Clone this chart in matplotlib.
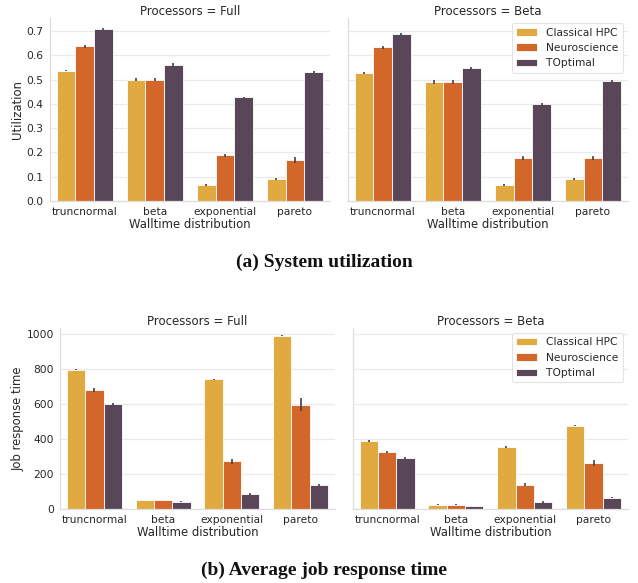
import numpy as np
import matplotlib
matplotlib.use("Agg")
import matplotlib.pyplot as plt

# ---------------- data ----------------
distributions = ["truncnormal", "beta", "exponential", "pareto"]
workloads = ["Classical HPC", "Neuroscience", "TOptimal"]
panels = ["Full", "Beta"]

# Utilization (a)
util_full = {
    "Classical HPC": [0.537, 0.500, 0.065, 0.092],
    "Neuroscience": [0.637, 0.500, 0.188, 0.170],
    "TOptimal": [0.710, 0.562, 0.427, 0.532],
}
util_full_err = {
    "Classical HPC": [0.003, 0.007, 0.003, 0.004],
    "Neuroscience": [0.006, 0.007, 0.006, 0.012],
    "TOptimal": [0.004, 0.005, 0.003, 0.005],
}
util_beta = {
    "Classical HPC": [0.528, 0.490, 0.065, 0.090],
    "Neuroscience": [0.633, 0.490, 0.177, 0.177],
    "TOptimal": [0.690, 0.547, 0.398, 0.494],
}
util_beta_err = {
    "Classical HPC": [0.003, 0.008, 0.003, 0.003],
    "Neuroscience": [0.006, 0.008, 0.008, 0.009],
    "TOptimal": [0.004, 0.006, 0.005, 0.006],
}

# Job response time (b)
resp_full = {
    "Classical HPC": [798, 51, 743, 992],
    "Neuroscience": [680, 51, 272, 598],
    "TOptimal": [600, 42, 88, 137],
}
resp_full_err = {
    "Classical HPC": [3, 2, 3, 3],
    "Neuroscience": [10, 2, 14, 38],
    "TOptimal": [6, 4, 6, 8],
}
resp_beta = {
    "Classical HPC": [390, 25, 356, 478],
    "Neuroscience": [326, 25, 139, 265],
    "TOptimal": [291, 19, 42, 65],
}
resp_beta_err = {
    "Classical HPC": [4, 1, 4, 4],
    "Neuroscience": [6, 1, 9, 18],
    "TOptimal": [4, 1, 5, 3],
}

colors = {"Classical HPC": "#E1AA40", "Neuroscience": "#D3672A", "TOptimal": "#5A4659"}
text_col = "#262626"

W, H = 638, 583
fig = plt.figure(figsize=(W / 100, H / 100), dpi=100)


def px_axes(x0, x1, y0, y1):
    return fig.add_axes([x0 / W, 1 - y1 / H, (x1 - x0) / W, (y1 - y0) / H])


def draw(ax, data, err, title, ylim, yticks, ylabel=None, legend=False, show_ylabels=True):
    n = len(workloads)
    width = 0.8 / n
    x = np.arange(len(distributions))
    for i, w in enumerate(workloads):
        pos = x - 0.4 + width * (i + 0.5)
        ax.bar(pos, data[w], width, color=colors[w], edgecolor="white",
               linewidth=0.6, label=w, zorder=2)
        ax.errorbar(pos, data[w], yerr=err[w], fmt="none", ecolor="#424242",
                    elinewidth=1.2, capsize=0, zorder=3)
    ax.set_xlim(-0.5, len(distributions) - 0.5)
    ax.set_ylim(*ylim)
    ax.set_yticks(yticks)
    ax.set_xticks(x)
    ax.set_xticklabels(distributions)
    ax.tick_params(axis="x", length=0, labelsize=7.7, colors=text_col, pad=4)
    ax.tick_params(axis="y", length=0, labelsize=7.7, colors=text_col, pad=4.5)
    if not show_ylabels:
        ax.tick_params(axis="y", labelleft=False)
    ax.grid(axis="y", color="#EAEAEA", linewidth=0.9, zorder=0)
    ax.set_axisbelow(True)
    for s in ["top", "right"]:
        ax.spines[s].set_visible(False)
    for s in ["left", "bottom"]:
        ax.spines[s].set_color("#DDDDDD")
        ax.spines[s].set_linewidth(0.9)
    ax.set_xlabel("Walltime distribution", fontsize=8.4, color=text_col, labelpad=1)
    if ylabel:
        ax.set_ylabel(ylabel, fontsize=8.4, color=text_col, labelpad=1.5)
    ax.set_title(title, fontsize=8.5, color=text_col, pad=1.5)
    if legend:
        leg = ax.legend(loc="upper right", fontsize=7.7, frameon=True,
                        borderaxespad=0.5, handlelength=2.0)
        leg.get_frame().set_edgecolor("#DDDDDD")
        leg.get_frame().set_linewidth(0.8)
        for t in leg.get_texts():
            t.set_color(text_col)


uticks = [0.0, 0.1, 0.2, 0.3, 0.4, 0.5, 0.6, 0.7]
rticks = [0, 200, 400, 600, 800, 1000]

ax1 = px_axes(49.7, 330, 18, 201)
draw(ax1, util_full, util_full_err, "Processors = Full", (0, 0.754), uticks, ylabel="Utilization")
ax2 = px_axes(347.7, 628, 18, 201)
draw(ax2, util_beta, util_beta_err, "Processors = Beta", (0, 0.754), uticks, legend=True, show_ylabels=False)

ax3 = px_axes(60, 335, 327.7, 509)
draw(ax3, resp_full, resp_full_err, "Processors = Full", (0, 1038), rticks, ylabel="Job response time")
ax4 = px_axes(352.7, 628, 327.7, 509)
draw(ax4, resp_beta, resp_beta_err, "Processors = Beta", (0, 1038), rticks, legend=True, show_ylabels=False)

cap_font = dict(family=["Liberation Serif", "DejaVu Serif"], weight="bold", fontsize=14, color="#111111")
fig.text(324 / W, 1 - 262 / H, "(a) System utilization", ha="center", va="center", **cap_font)
fig.text(324 / W, 1 - 570 / H, "(b) Average job response time", ha="center", va="center", **cap_font)

fig.savefig("out.png", dpi=100)
